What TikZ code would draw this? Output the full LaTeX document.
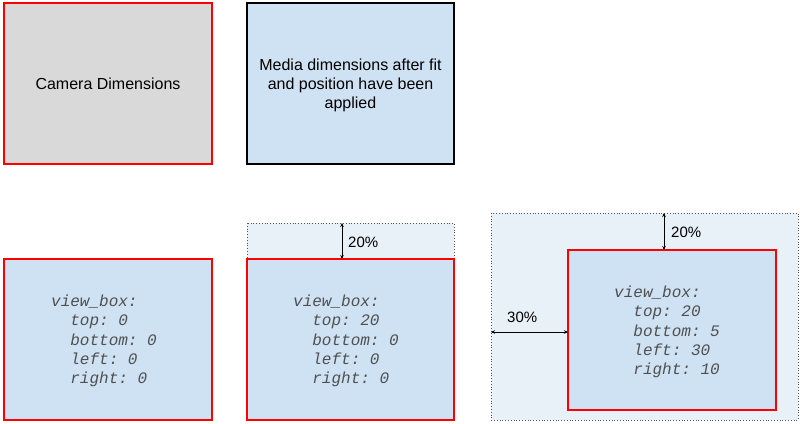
\documentclass[tikz,border=0pt]{standalone}
\usepackage{fontspec}
\setmainfont{Liberation Sans}
\setmonofont{Liberation Mono}
\usetikzlibrary{arrows.meta}
\definecolor{camfill}{HTML}{D9D9D9}
\definecolor{mediafill}{HTML}{CFE2F3}
\definecolor{outerfill}{HTML}{E8F0F8}
\definecolor{boxred}{HTML}{FF0000}
\definecolor{codegray}{HTML}{505050}
\definecolor{dotgray}{HTML}{555555}
\tikzset{
  x=1pt, y=-1pt,
  cambox/.style={draw=boxred, line width=1.5pt, fill=camfill},
  mediabox/.style={draw=black, line width=1.8pt, fill=mediafill},
  vbox/.style={draw=boxred, line width=2.2pt, fill=mediafill},
  outerbox/.style={draw=dotgray, line width=0.8pt, dotted, fill=outerfill},
  lbl/.style={font=\fontsize{16}{19}\selectfont, align=center, text=black},
  code/.style={font=\fontsize{16}{19.4}\selectfont\ttfamily\itshape, align=left, text=codegray, inner sep=0pt},
  pct/.style={font=\fontsize{15}{18}\selectfont, text=black, inner sep=0pt, anchor=west},
  dim/.style={line width=0.8pt, {Stealth[length=4pt,width=3.5pt]}-{Stealth[length=4pt,width=3.5pt]}}
}
\begin{document}
\begin{tikzpicture}
\useasboundingbox (0,0) rectangle (800,423);
% top row
\draw[cambox] (4,3) rectangle (212,164);
\node[lbl] (cam) at (108,84) {Camera Dimensions};
\draw[mediabox] (247,3) rectangle (454,164);
\node[lbl] (media) at (350.5,85) {Media dimensions after fit\\and position have been\\applied};
% bottom left
\draw[vbox] (4,259) rectangle (212,420);
\node[code] (ca) at (104,341) {view\_box:\\\phantom{xx}top: 0\\\phantom{xx}bottom: 0\\\phantom{xx}left: 0\\\phantom{xx}right: 0};
% bottom middle
\draw[outerbox] (247,223) rectangle (454,259);
\draw[vbox] (247,259) rectangle (454,420);
\coordinate (btop) at (342,223);
\coordinate (bbot) at (342,259);
\draw[dim] (btop) -- (bbot);
\node[pct] (p1) at (348,242) {20\%};
\node[code] (cb) at (346,341) {view\_box:\\\phantom{xx}top: 20\\\phantom{xx}bottom: 0\\\phantom{xx}left: 0\\\phantom{xx}right: 0};
% bottom right
\draw[outerbox] (491,213) rectangle (798,420);
\draw[vbox] (568,250) rectangle (776,410);
\coordinate (ctop) at (664,213);
\coordinate (cbot) at (664,250);
\draw[dim] (ctop) -- (cbot);
\node[pct] (p2) at (671,232) {20\%};
\coordinate (cleft) at (491,332);
\coordinate (cright) at (568,332);
\draw[dim] (cleft) -- (cright);
\node[pct] (p3) at (507,317) {30\%};
\node[code] (cc) at (667,332) {view\_box:\\\phantom{xx}top: 20\\\phantom{xx}bottom: 5\\\phantom{xx}left: 30\\\phantom{xx}right: 10};
\end{tikzpicture}
\end{document}
